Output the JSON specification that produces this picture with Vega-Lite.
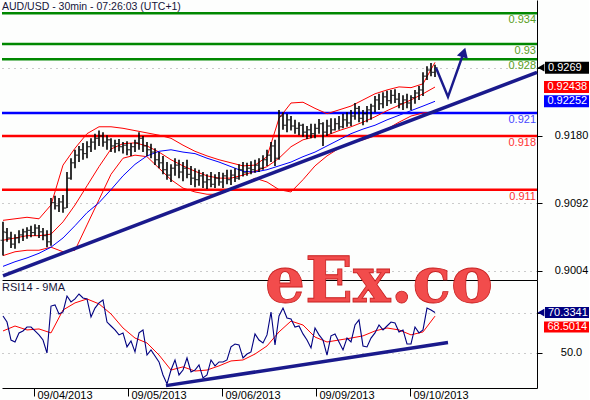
{
  "$schema": "https://vega.github.io/schema/vega-lite/v6.json",
  "background": "#FDFEFD",
  "padding": {"left": -4, "top": 0, "right": 0, "bottom": 0},
  "bounds": "flush",
  "spacing": 0,
  "config": {"view": {"stroke": null}, "font": "Liberation Sans"},
  "resolve": {"scale": {"x": "independent", "y": "independent"}},
  "datasets": {
    "levels": [
      {"level": 0.934, "label": "0.934", "kind": "resistance"},
      {"level": 0.93, "label": "0.93", "kind": "resistance"},
      {"level": 0.928, "label": "0.928", "kind": "resistance"},
      {"level": 0.921, "label": "0.921", "kind": "pivot"},
      {"level": 0.918, "label": "0.918", "kind": "support"},
      {"level": 0.911, "label": "0.911", "kind": "support"}
    ],
    "bars": [
      {"i":0,"o":0.9044,"h":0.9068,"l":0.9024,"c":0.9055},
      {"i":1,"o":0.9054,"h":0.9060,"l":0.9042,"c":0.9047},
      {"i":2,"o":0.9047,"h":0.9055,"l":0.9034,"c":0.9039},
      {"i":3,"o":0.9039,"h":0.9052,"l":0.9033,"c":0.9047},
      {"i":4,"o":0.9047,"h":0.9057,"l":0.9040,"c":0.9051},
      {"i":5,"o":0.9051,"h":0.9059,"l":0.9043,"c":0.9055},
      {"i":6,"o":0.9055,"h":0.9061,"l":0.9046,"c":0.9057},
      {"i":7,"o":0.9057,"h":0.9063,"l":0.9048,"c":0.9054},
      {"i":8,"o":0.9054,"h":0.9065,"l":0.9050,"c":0.9060},
      {"i":9,"o":0.9060,"h":0.9064,"l":0.9047,"c":0.9055},
      {"i":10,"o":0.9055,"h":0.9060,"l":0.9044,"c":0.9050},
      {"i":11,"o":0.9050,"h":0.9057,"l":0.9035,"c":0.9042},
      {"i":12,"o":0.9042,"h":0.9099,"l":0.9037,"c":0.9093},
      {"i":13,"o":0.9093,"h":0.9102,"l":0.9084,"c":0.9089},
      {"i":14,"o":0.9089,"h":0.9099,"l":0.9081,"c":0.9094},
      {"i":15,"o":0.9094,"h":0.9103,"l":0.9080,"c":0.9086},
      {"i":16,"o":0.9086,"h":0.9133,"l":0.9086,"c":0.9125},
      {"i":17,"o":0.9125,"h":0.9151,"l":0.9123,"c":0.9145},
      {"i":18,"o":0.9145,"h":0.9162,"l":0.9138,"c":0.9155},
      {"i":19,"o":0.9155,"h":0.9167,"l":0.9146,"c":0.9162},
      {"i":20,"o":0.9162,"h":0.9171,"l":0.9149,"c":0.9157},
      {"i":21,"o":0.9157,"h":0.9173,"l":0.9151,"c":0.9166},
      {"i":22,"o":0.9166,"h":0.9177,"l":0.9159,"c":0.9172},
      {"i":23,"o":0.9172,"h":0.9183,"l":0.9162,"c":0.9177},
      {"i":24,"o":0.9177,"h":0.9187,"l":0.9167,"c":0.9180},
      {"i":25,"o":0.9180,"h":0.9185,"l":0.9166,"c":0.9172},
      {"i":26,"o":0.9172,"h":0.9181,"l":0.9162,"c":0.9175},
      {"i":27,"o":0.9175,"h":0.9177,"l":0.9159,"c":0.9167},
      {"i":28,"o":0.9167,"h":0.9175,"l":0.9158,"c":0.9170},
      {"i":29,"o":0.9170,"h":0.9176,"l":0.9160,"c":0.9166},
      {"i":30,"o":0.9166,"h":0.9172,"l":0.9157,"c":0.9168},
      {"i":31,"o":0.9168,"h":0.9173,"l":0.9155,"c":0.9162},
      {"i":32,"o":0.9162,"h":0.9171,"l":0.9154,"c":0.9166},
      {"i":33,"o":0.9166,"h":0.9175,"l":0.9159,"c":0.9171},
      {"i":34,"o":0.9171,"h":0.9185,"l":0.9162,"c":0.9177},
      {"i":35,"o":0.9177,"h":0.9180,"l":0.9159,"c":0.9167},
      {"i":36,"o":0.9167,"h":0.9172,"l":0.9154,"c":0.9162},
      {"i":37,"o":0.9162,"h":0.9170,"l":0.9151,"c":0.9159},
      {"i":38,"o":0.9159,"h":0.9164,"l":0.9142,"c":0.9149},
      {"i":39,"o":0.9149,"h":0.9159,"l":0.9138,"c":0.9145},
      {"i":40,"o":0.9145,"h":0.9154,"l":0.9130,"c":0.9136},
      {"i":41,"o":0.9136,"h":0.9146,"l":0.9123,"c":0.9129},
      {"i":42,"o":0.9129,"h":0.9143,"l":0.9120,"c":0.9138},
      {"i":43,"o":0.9138,"h":0.9151,"l":0.9128,"c":0.9142},
      {"i":44,"o":0.9142,"h":0.9149,"l":0.9125,"c":0.9133},
      {"i":45,"o":0.9133,"h":0.9146,"l":0.9121,"c":0.9138},
      {"i":46,"o":0.9138,"h":0.9149,"l":0.9125,"c":0.9130},
      {"i":47,"o":0.9130,"h":0.9141,"l":0.9116,"c":0.9125},
      {"i":48,"o":0.9125,"h":0.9138,"l":0.9113,"c":0.9123},
      {"i":49,"o":0.9123,"h":0.9136,"l":0.9115,"c":0.9128},
      {"i":50,"o":0.9128,"h":0.9133,"l":0.9112,"c":0.9120},
      {"i":51,"o":0.9120,"h":0.9130,"l":0.9111,"c":0.9123},
      {"i":52,"o":0.9123,"h":0.9133,"l":0.9113,"c":0.9117},
      {"i":53,"o":0.9117,"h":0.9130,"l":0.9112,"c":0.9125},
      {"i":54,"o":0.9125,"h":0.9133,"l":0.9115,"c":0.9120},
      {"i":55,"o":0.9120,"h":0.9132,"l":0.9112,"c":0.9128},
      {"i":56,"o":0.9128,"h":0.9136,"l":0.9117,"c":0.9123},
      {"i":57,"o":0.9123,"h":0.9136,"l":0.9116,"c":0.9129},
      {"i":58,"o":0.9129,"h":0.9138,"l":0.9120,"c":0.9125},
      {"i":59,"o":0.9125,"h":0.9143,"l":0.9123,"c":0.9136},
      {"i":60,"o":0.9136,"h":0.9146,"l":0.9127,"c":0.9132},
      {"i":61,"o":0.9132,"h":0.9145,"l":0.9128,"c":0.9138},
      {"i":62,"o":0.9138,"h":0.9147,"l":0.9130,"c":0.9136},
      {"i":63,"o":0.9136,"h":0.9149,"l":0.9132,"c":0.9142},
      {"i":64,"o":0.9142,"h":0.9151,"l":0.9133,"c":0.9138},
      {"i":65,"o":0.9138,"h":0.9155,"l":0.9136,"c":0.9149},
      {"i":66,"o":0.9149,"h":0.9162,"l":0.9141,"c":0.9155},
      {"i":67,"o":0.9155,"h":0.9172,"l":0.9146,"c":0.9167},
      {"i":68,"o":0.9167,"h":0.9175,"l":0.9141,"c":0.9151},
      {"i":69,"o":0.9151,"h":0.9214,"l":0.9149,"c":0.9206},
      {"i":70,"o":0.9206,"h":0.9211,"l":0.9188,"c":0.9194},
      {"i":71,"o":0.9194,"h":0.9209,"l":0.9185,"c":0.9201},
      {"i":72,"o":0.9201,"h":0.9206,"l":0.9187,"c":0.9193},
      {"i":73,"o":0.9193,"h":0.9201,"l":0.9183,"c":0.9190},
      {"i":74,"o":0.9190,"h":0.9198,"l":0.9181,"c":0.9194},
      {"i":75,"o":0.9194,"h":0.9196,"l":0.9179,"c":0.9185},
      {"i":76,"o":0.9185,"h":0.9193,"l":0.9176,"c":0.9188},
      {"i":77,"o":0.9188,"h":0.9196,"l":0.9177,"c":0.9183},
      {"i":78,"o":0.9183,"h":0.9196,"l":0.9177,"c":0.9190},
      {"i":79,"o":0.9190,"h":0.9202,"l":0.9183,"c":0.9196},
      {"i":80,"o":0.9196,"h":0.9198,"l":0.9167,"c":0.9185},
      {"i":81,"o":0.9185,"h":0.9201,"l":0.9180,"c":0.9193},
      {"i":82,"o":0.9193,"h":0.9203,"l":0.9183,"c":0.9188},
      {"i":83,"o":0.9188,"h":0.9203,"l":0.9187,"c":0.9196},
      {"i":84,"o":0.9196,"h":0.9206,"l":0.9188,"c":0.9192},
      {"i":85,"o":0.9192,"h":0.9209,"l":0.9190,"c":0.9201},
      {"i":86,"o":0.9201,"h":0.9211,"l":0.9192,"c":0.9197},
      {"i":87,"o":0.9197,"h":0.9214,"l":0.9193,"c":0.9206},
      {"i":88,"o":0.9206,"h":0.9223,"l":0.9201,"c":0.9216},
      {"i":89,"o":0.9216,"h":0.9219,"l":0.9198,"c":0.9203},
      {"i":90,"o":0.9203,"h":0.9214,"l":0.9194,"c":0.9209},
      {"i":91,"o":0.9209,"h":0.9219,"l":0.9198,"c":0.9214},
      {"i":92,"o":0.9214,"h":0.9222,"l":0.9201,"c":0.9219},
      {"i":93,"o":0.9219,"h":0.9232,"l":0.9211,"c":0.9227},
      {"i":94,"o":0.9227,"h":0.9235,"l":0.9214,"c":0.9222},
      {"i":95,"o":0.9222,"h":0.9237,"l":0.9216,"c":0.9231},
      {"i":96,"o":0.9231,"h":0.9239,"l":0.9219,"c":0.9226},
      {"i":97,"o":0.9226,"h":0.9240,"l":0.9222,"c":0.9233},
      {"i":98,"o":0.9233,"h":0.9241,"l":0.9223,"c":0.9228},
      {"i":99,"o":0.9228,"h":0.9236,"l":0.9216,"c":0.9222},
      {"i":100,"o":0.9222,"h":0.9233,"l":0.9214,"c":0.9227},
      {"i":101,"o":0.9227,"h":0.9235,"l":0.9216,"c":0.9223},
      {"i":102,"o":0.9223,"h":0.9233,"l":0.9214,"c":0.9230},
      {"i":103,"o":0.9230,"h":0.9240,"l":0.9222,"c":0.9236},
      {"i":104,"o":0.9236,"h":0.9245,"l":0.9227,"c":0.9240},
      {"i":105,"o":0.9240,"h":0.9263,"l":0.9232,"c":0.9258},
      {"i":106,"o":0.9258,"h":0.9271,"l":0.9253,"c":0.9266},
      {"i":107,"o":0.9266,"h":0.9275,"l":0.9258,"c":0.9263},
      {"i":108,"o":0.9263,"h":0.9273,"l":0.9257,"c":0.9269}
    ],
    "bands": [
      {"i":0,"up":0.9070,"mid":0.9044,"lo":0.9024,"ma":0.9010},
      {"i":3,"up":0.9072,"mid":0.9047,"lo":0.9029,"ma":0.9016},
      {"i":6,"up":0.9074,"mid":0.9050,"lo":0.9031,"ma":0.9021},
      {"i":9,"up":0.9072,"mid":0.9050,"lo":0.9031,"ma":0.9027},
      {"i":12,"up":0.9090,"mid":0.9052,"lo":0.9035,"ma":0.9035},
      {"i":15,"up":0.9142,"mid":0.9068,"lo":0.9029,"ma":0.9047},
      {"i":18,"up":0.9164,"mid":0.9090,"lo":0.9031,"ma":0.9063},
      {"i":21,"up":0.9183,"mid":0.9115,"lo":0.9064,"ma":0.9080},
      {"i":24,"up":0.9192,"mid":0.9140,"lo":0.9097,"ma":0.9093},
      {"i":27,"up":0.9192,"mid":0.9163,"lo":0.9130,"ma":0.9110},
      {"i":30,"up":0.9190,"mid":0.9170,"lo":0.9151,"ma":0.9128},
      {"i":33,"up":0.9187,"mid":0.9171,"lo":0.9155,"ma":0.9143},
      {"i":36,"up":0.9184,"mid":0.9167,"lo":0.9153,"ma":0.9154},
      {"i":39,"up":0.9181,"mid":0.9159,"lo":0.9138,"ma":0.9160},
      {"i":42,"up":0.9177,"mid":0.9149,"lo":0.9123,"ma":0.9162},
      {"i":45,"up":0.9168,"mid":0.9141,"lo":0.9112,"ma":0.9159},
      {"i":48,"up":0.9160,"mid":0.9134,"lo":0.9107,"ma":0.9157},
      {"i":51,"up":0.9154,"mid":0.9128,"lo":0.9104,"ma":0.9151},
      {"i":54,"up":0.9149,"mid":0.9125,"lo":0.9104,"ma":0.9146},
      {"i":57,"up":0.9145,"mid":0.9125,"lo":0.9110,"ma":0.9140},
      {"i":60,"up":0.9141,"mid":0.9129,"lo":0.9117,"ma":0.9134},
      {"i":63,"up":0.9142,"mid":0.9134,"lo":0.9125,"ma":0.9133},
      {"i":66,"up":0.9153,"mid":0.9140,"lo":0.9120,"ma":0.9136},
      {"i":69,"up":0.9203,"mid":0.9151,"lo":0.9110,"ma":0.9141},
      {"i":72,"up":0.9223,"mid":0.9166,"lo":0.9107,"ma":0.9146},
      {"i":75,"up":0.9224,"mid":0.9175,"lo":0.9123,"ma":0.9153},
      {"i":78,"up":0.9216,"mid":0.9179,"lo":0.9141,"ma":0.9159},
      {"i":81,"up":0.9209,"mid":0.9181,"lo":0.9154,"ma":0.9167},
      {"i":84,"up":0.9214,"mid":0.9187,"lo":0.9164,"ma":0.9175},
      {"i":87,"up":0.9219,"mid":0.9192,"lo":0.9171,"ma":0.9183},
      {"i":90,"up":0.9227,"mid":0.9198,"lo":0.9175,"ma":0.9189},
      {"i":93,"up":0.9235,"mid":0.9205,"lo":0.9180,"ma":0.9194},
      {"i":96,"up":0.9240,"mid":0.9213,"lo":0.9189,"ma":0.9201},
      {"i":99,"up":0.9244,"mid":0.9220,"lo":0.9198,"ma":0.9207},
      {"i":102,"up":0.9243,"mid":0.9227,"lo":0.9206,"ma":0.9213},
      {"i":105,"up":0.9248,"mid":0.9235,"lo":0.9210,"ma":0.9219},
      {"i":108,"up":0.9276,"mid":0.92438,"lo":0.9211,"ma":0.92252}
    ],
    "trend": [{"i":0,"p":0.89975},{"i":133.5,"p":0.9263}],
    "arrow": [{"i":108.25,"p":0.9269},{"i":111.25,"p":0.9231},{"i":115.25,"p":0.9290}],
    "rsi": [
      {"i":0,"r":68.6},{"i":1,"r":65.5},{"i":2,"r":56.4},{"i":3,"r":55.4},{"i":4,"r":60.0},
      {"i":5,"r":61.0},{"i":6,"r":63.0},{"i":7,"r":63.0},{"i":8,"r":61.0},{"i":9,"r":59.0},
      {"i":10,"r":56.4},{"i":11,"r":49.8},{"i":12,"r":73.6},{"i":13,"r":74.2},{"i":14,"r":69.6},
      {"i":15,"r":70.6},{"i":16,"r":78.7},{"i":17,"r":75.7},{"i":18,"r":77.2},{"i":19,"r":79.7},
      {"i":20,"r":77.7},{"i":21,"r":77.2},{"i":22,"r":68.1},{"i":23,"r":72.6},{"i":24,"r":75.2},
      {"i":25,"r":76.7},{"i":26,"r":65.5},{"i":27,"r":63.5},{"i":28,"r":61.5},{"i":29,"r":59.0},
      {"i":30,"r":60.0},{"i":31,"r":52.9},{"i":32,"r":55.9},{"i":33,"r":50.4},{"i":34,"r":60.0},
      {"i":35,"r":61.5},{"i":36,"r":48.8},{"i":37,"r":51.4},{"i":38,"r":48.3},{"i":39,"r":45.3},
      {"i":40,"r":38.7},{"i":41,"r":34.2},{"i":42,"r":41.2},{"i":43,"r":46.3},{"i":44,"r":38.7},
      {"i":45,"r":41.2},{"i":46,"r":47.3},{"i":47,"r":40.2},{"i":48,"r":41.2},{"i":49,"r":43.8},
      {"i":50,"r":37.2},{"i":51,"r":38.7},{"i":52,"r":46.3},{"i":53,"r":43.3},{"i":54,"r":45.3},
      {"i":55,"r":45.3},{"i":56,"r":46.3},{"i":57,"r":52.9},{"i":58,"r":54.4},{"i":59,"r":53.9},
      {"i":60,"r":47.3},{"i":61,"r":49.3},{"i":62,"r":50.4},{"i":63,"r":59.5},{"i":64,"r":56.4},
      {"i":65,"r":54.9},{"i":66,"r":59.0},{"i":67,"r":70.6},{"i":68,"r":53.9},{"i":69,"r":68.6},
      {"i":70,"r":72.6},{"i":71,"r":67.6},{"i":72,"r":67.1},{"i":73,"r":63.0},{"i":74,"r":63.5},
      {"i":75,"r":59.5},{"i":76,"r":56.4},{"i":77,"r":52.4},{"i":78,"r":62.5},{"i":79,"r":59.0},
      {"i":80,"r":56.4},{"i":81,"r":48.8},{"i":82,"r":58.5},{"i":83,"r":59.5},{"i":84,"r":55.4},
      {"i":85,"r":51.4},{"i":86,"r":57.4},{"i":87,"r":55.4},{"i":88,"r":64.0},{"i":89,"r":66.6},
      {"i":90,"r":53.4},{"i":91,"r":52.9},{"i":92,"r":57.4},{"i":93,"r":60.0},{"i":94,"r":64.0},
      {"i":95,"r":61.5},{"i":96,"r":63.5},{"i":97,"r":65.5},{"i":98,"r":65.0},{"i":99,"r":60.5},
      {"i":100,"r":61.5},{"i":101,"r":54.4},{"i":102,"r":54.4},{"i":103,"r":63.0},{"i":104,"r":60.0},
      {"i":105,"r":61.5},{"i":106,"r":72.6},{"i":107,"r":71.6},{"i":108,"r":70.3341}
    ],
    "rsima": [
      {"i":0,"m":61.0},{"i":3,"m":63.5},{"i":6,"m":61.5},{"i":9,"m":62.0},{"i":12,"m":60.0},
      {"i":15,"m":71.6},{"i":18,"m":75.2},{"i":21,"m":77.2},{"i":24,"m":74.7},{"i":27,"m":69.6},
      {"i":30,"m":62.5},{"i":33,"m":57.4},{"i":36,"m":54.9},{"i":39,"m":48.8},{"i":42,"m":41.2},
      {"i":45,"m":42.8},{"i":48,"m":40.7},{"i":51,"m":41.2},{"i":54,"m":43.3},{"i":57,"m":45.8},
      {"i":60,"m":46.3},{"i":63,"m":49.3},{"i":66,"m":53.4},{"i":69,"m":60.5},{"i":72,"m":66.0},
      {"i":75,"m":64.0},{"i":78,"m":57.9},{"i":81,"m":55.4},{"i":84,"m":56.4},{"i":87,"m":57.4},
      {"i":90,"m":58.5},{"i":93,"m":61.0},{"i":96,"m":62.5},{"i":99,"m":61.5},{"i":102,"m":59.0},
      {"i":105,"m":60.5},{"i":108,"m":68.5014}
    ],
    "rsitrend": [{"i":40.75,"r":33.3},{"i":111.25,"r":55.1}]
  },
  "vconcat": [
    {
      "width": 535,
      "height": 280,
      "layer": [
        {
          "data": {"name": "levels"},
          "mark": {"type": "rule", "strokeWidth": 2.5},
          "encoding": {
            "y": {"field": "level", "type": "quantitative",
              "scale": {"domain": [0.89922, 0.93573], "nice": false, "zero": false},
              "axis": {"orient": "right", "title": null, "values": [0.9004, 0.9092, 0.918, 0.9268],
                "labelExpr": "datum.value > 0.926 ? '' : format(datum.value, '.4f')",
                "tickSize": 5, "tickColor": "#000", "domainColor": "#000", "labelColor": "#000",
                "labelFont": "Liberation Sans", "labelFontSize": 11, "labelAlign": "center", "labelPadding": 29,
                "grid": true, "gridDash": [1, 5], "gridColor": "#999999"}},
            "stroke": {"field": "kind", "type": "nominal",
              "scale": {"domain": ["resistance", "pivot", "support"], "range": ["#008800", "#0000FF", "#FF0000"]},
              "legend": null}
          }
        },
        {
          "data": {"name": "levels"},
          "mark": {"type": "text", "align": "right", "baseline": "middle", "dy": 7, "fontSize": 11, "font": "Liberation Sans"},
          "encoding": {
            "x": {"datum": 133.25},
            "y": {"field": "level", "type": "quantitative"},
            "text": {"field": "label"},
            "fill": {"field": "kind", "type": "nominal",
              "scale": {"domain": ["resistance", "pivot", "support"], "range": ["#5A9E22", "#4848FF", "#FF3333"]},
              "legend": null}
          }
        },
        {
          "data": {"name": "bands"},
          "mark": {"type": "line", "color": "#FF0000", "strokeWidth": 1},
          "encoding": {
            "x": {"field": "i", "type": "quantitative",
              "scale": {"domain": [-0.25, 133.5], "nice": false, "zero": false},
              "axis": {"orient": "bottom", "title": null, "labels": false, "ticks": false, "grid": false, "domainColor": "#000"}},
            "y": {"field": "up", "type": "quantitative"}
          }
        },
        {
          "data": {"name": "bands"},
          "mark": {"type": "line", "color": "#FF0000", "strokeWidth": 1},
          "encoding": {"x": {"field": "i", "type": "quantitative"}, "y": {"field": "mid", "type": "quantitative"}}
        },
        {
          "data": {"name": "bands"},
          "mark": {"type": "line", "color": "#FF0000", "strokeWidth": 1},
          "encoding": {"x": {"field": "i", "type": "quantitative"}, "y": {"field": "lo", "type": "quantitative"}}
        },
        {
          "data": {"name": "bands"},
          "mark": {"type": "line", "color": "#0000FF", "strokeWidth": 1},
          "encoding": {"x": {"field": "i", "type": "quantitative"}, "y": {"field": "ma", "type": "quantitative"}}
        },
        {
          "data": {"name": "bars"},
          "mark": {"type": "rule", "color": "#000000", "strokeWidth": 1.6},
          "encoding": {"x": {"field": "i", "type": "quantitative"}, "y": {"field": "h", "type": "quantitative"}, "y2": {"field": "l"}}
        },
        {
          "data": {"name": "bars"},
          "mark": {"type": "tick", "orient": "horizontal", "size": 2, "thickness": 1, "xOffset": -1.5, "color": "#000000"},
          "encoding": {"x": {"field": "i", "type": "quantitative"}, "y": {"field": "o", "type": "quantitative"}}
        },
        {
          "data": {"name": "bars"},
          "mark": {"type": "tick", "orient": "horizontal", "size": 2, "thickness": 1, "xOffset": 1.5, "color": "#000000"},
          "encoding": {"x": {"field": "i", "type": "quantitative"}, "y": {"field": "c", "type": "quantitative"}}
        },
        {
          "data": {"name": "trend"},
          "mark": {"type": "line", "color": "#1A1A8C", "strokeWidth": 3.5},
          "encoding": {"x": {"field": "i", "type": "quantitative"}, "y": {"field": "p", "type": "quantitative"}}
        },
        {
          "data": {"name": "arrow"},
          "mark": {"type": "line", "color": "#1A1A8C", "strokeWidth": 2.5},
          "encoding": {"x": {"field": "i", "type": "quantitative"}, "y": {"field": "p", "type": "quantitative"}}
        },
        {
          "data": {"values": [{}]},
          "mark": {"type": "point", "shape": "triangle-up", "filled": true, "size": 130, "angle": 17, "color": "#1A1A8C", "opacity": 1},
          "encoding": {"x": {"datum": 115.2}, "y": {"datum": 0.9289}}
        },
        {
          "data": {"values": [{}]},
          "mark": {"type": "text", "align": "left", "baseline": "middle", "fontSize": 10.5, "font": "Liberation Sans", "color": "#15153A"},
          "encoding": {"x": {"datum": -0.25}, "y": {"datum": 0.93482}, "text": {"value": "AUD/USD - 30min - 07:26:03 (UTC+1)"}}
        },
        {
          "data": {"values": [{}]},
          "mark": {"type": "rect", "color": "#000000"},
          "encoding": {"x": {"datum": 135.5}, "x2": {"datum": 146.5}, "y": {"datum": 0.92612}, "y2": {"datum": 0.92768}}
        },
        {
          "data": {"values": [{}]},
          "mark": {"type": "point", "shape": "triangle-left", "filled": true, "size": 60, "color": "#000000", "opacity": 1},
          "encoding": {"x": {"datum": 134.5}, "y": {"datum": 0.9269}}
        },
        {
          "data": {"values": [{}]},
          "mark": {"type": "text", "align": "left", "baseline": "middle", "fontSize": 11, "font": "Liberation Sans", "color": "#FFFFFF"},
          "encoding": {"x": {"datum": 136.25}, "y": {"datum": 0.9269}, "text": {"value": "0.9269"}}
        },
        {
          "data": {"values": [{}]},
          "mark": {"type": "rect", "color": "#FF0000"},
          "encoding": {"x": {"datum": 135.25}, "x2": {"datum": 146.5}, "y": {"datum": 0.9236}, "y2": {"datum": 0.92516}}
        },
        {
          "data": {"values": [{}]},
          "mark": {"type": "text", "align": "left", "baseline": "middle", "fontSize": 11, "font": "Liberation Sans", "color": "#FFFFFF"},
          "encoding": {"x": {"datum": 136.1}, "y": {"datum": 0.92438}, "text": {"value": "0.92438"}}
        },
        {
          "data": {"values": [{}]},
          "mark": {"type": "rect", "color": "#0000FF"},
          "encoding": {"x": {"datum": 135.25}, "x2": {"datum": 146.5}, "y": {"datum": 0.92174}, "y2": {"datum": 0.9233}}
        },
        {
          "data": {"values": [{}]},
          "mark": {"type": "text", "align": "left", "baseline": "middle", "fontSize": 11, "font": "Liberation Sans", "color": "#FFFFFF"},
          "encoding": {"x": {"datum": 136.1}, "y": {"datum": 0.92252}, "text": {"value": "0.92252"}}
        }
      ]
    },
    {
      "width": 535,
      "height": 108,
      "layer": [
        {
          "data": {"name": "rsima"},
          "mark": {"type": "line", "color": "#FF0000", "strokeWidth": 1},
          "encoding": {
            "x": {"field": "i", "type": "quantitative",
              "scale": {"domain": [-0.25, 133.5], "nice": false, "zero": false},
              "axis": {"orient": "bottom", "title": null, "values": [7.75, 31.25, 54.75, 78.25, 101.75],
                "labelExpr": "{'7.75':'09/04/2013','31.25':'09/05/2013','54.75':'09/06/2013','78.25':'09/09/2013','101.75':'09/10/2013'}[datum.value]",
                "tickSize": 8, "tickColor": "#000", "domainColor": "#000", "labelColor": "#000", "labelFont": "Liberation Sans",
                "labelFontSize": 11, "labelAlign": "left", "labelBaseline": "top", "labelPadding": -7, "labelOffset": 3,
                "labelFlush": false, "labelOverlap": false, "grid": false}},
            "y": {"field": "m", "type": "quantitative",
              "scale": {"domain": [32.1, 86.8], "nice": false, "zero": false},
              "axis": {"orient": "right", "title": null, "values": [50, 70],
                "labelExpr": "datum.value == 70 ? '' : format(datum.value, '.1f')",
                "tickSize": 5, "tickColor": "#000", "domainColor": "#000", "labelColor": "#000",
                "labelFont": "Liberation Sans", "labelFontSize": 11, "labelAlign": "center", "labelPadding": 29,
                "grid": true, "gridDash": [1, 5], "gridColor": "#999999"}}
          }
        },
        {
          "data": {"name": "rsi"},
          "mark": {"type": "line", "color": "#000080", "strokeWidth": 1.1},
          "encoding": {"x": {"field": "i", "type": "quantitative"}, "y": {"field": "r", "type": "quantitative"}}
        },
        {
          "data": {"name": "rsitrend"},
          "mark": {"type": "line", "color": "#1A1A8C", "strokeWidth": 3.5},
          "encoding": {"x": {"field": "i", "type": "quantitative"}, "y": {"field": "r", "type": "quantitative"}}
        },
        {
          "data": {"values": [{}]},
          "mark": {"type": "text", "align": "left", "baseline": "middle", "fontSize": 11, "font": "Liberation Sans", "color": "#15153A"},
          "encoding": {"x": {"datum": -0.25}, "y": {"datum": 82.8}, "text": {"value": "RSI14 - 9MA"}}
        },
        {
          "data": {"values": [{}]},
          "mark": {"type": "rect", "color": "#000080"},
          "encoding": {"x": {"datum": 135.5}, "x2": {"datum": 146.5}, "y": {"datum": 67.5}, "y2": {"datum": 73.1}}
        },
        {
          "data": {"values": [{}]},
          "mark": {"type": "point", "shape": "triangle-left", "filled": true, "size": 60, "color": "#000080", "opacity": 1},
          "encoding": {"x": {"datum": 134.5}, "y": {"datum": 70.3341}}
        },
        {
          "data": {"values": [{}]},
          "mark": {"type": "text", "align": "left", "baseline": "middle", "fontSize": 11, "font": "Liberation Sans", "color": "#FFFFFF"},
          "encoding": {"x": {"datum": 136.25}, "y": {"datum": 70.3341}, "text": {"value": "70.3341"}}
        },
        {
          "data": {"values": [{}]},
          "mark": {"type": "rect", "color": "#FF0000"},
          "encoding": {"x": {"datum": 135.25}, "x2": {"datum": 146.5}, "y": {"datum": 60.2}, "y2": {"datum": 65.8}}
        },
        {
          "data": {"values": [{}]},
          "mark": {"type": "text", "align": "left", "baseline": "middle", "fontSize": 11, "font": "Liberation Sans", "color": "#FFFFFF"},
          "encoding": {"x": {"datum": 136.1}, "y": {"datum": 63.0}, "text": {"value": "68.5014"}}
        },
        {
          "data": {"values": [{}]},
          "mark": {"type": "text", "align": "center", "baseline": "alphabetic", "fontSize": 63, "font": "DejaVu Serif", "fontWeight": "bold", "fill": "#F24C4C", "stroke": "#C82020", "strokeWidth": 0.8},
          "encoding": {"x": {"datum": 94}, "y": {"datum": 75.7}, "text": {"value": "eEx.co"}}
        }
      ]
    }
  ]
}
